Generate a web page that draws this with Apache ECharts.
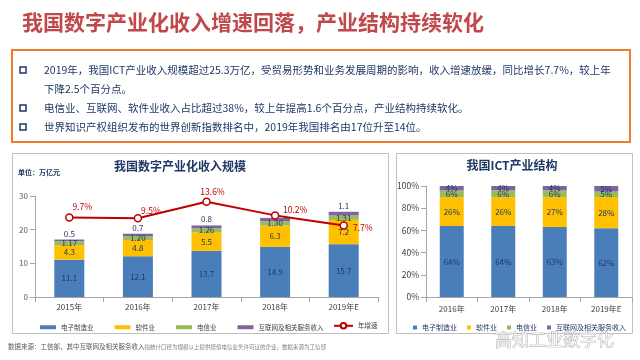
<!DOCTYPE html>
<html><head><meta charset="utf-8">
<script src="https://cdn.jsdelivr.net/npm/echarts@6/dist/echarts.min.js"></script>
<style>html,body{margin:0;padding:0;background:#fff}#c{width:640px;height:360px}</style>
</head><body><div id="c"></div>
<script>
// ---- data ----
const years = ['2015年','2016年','2017年','2018年','2019年E'];
const electronics = [11.1, 12.1, 13.7, 14.9, 15.7];
const software = [4.3, 4.8, 5.5, 6.3, 7.2];
const telecom = [1.17, 1.20, 1.26, 1.30, 1.31];
const internet = [0.5, 0.7, 0.8, 1.0, 1.1];
const internetLabelShown = [true, true, true, false, true];
const growth = [9.7, 9.5, 13.6, 10.2, 7.7];

const structYears = ['2016年','2017年','2018年','2019年E'];
const shareElectronics = [64, 64, 63, 62];
const shareSoftware = [26, 26, 27, 28];
const shareTelecom = [6, 6, 6, 5];
const shareInternet = [4, 4, 4, 5];

const bullets = [
  '2019年，我国ICT产业收入规模超过25.3万亿，受贸易形势和业务发展周期的影响，收入增速放缓，同比增长7.7%，较上年',
  '下降2.5个百分点。',
  '电信业、互联网、软件业收入占比超过38%，较上年提高1.6个百分点，产业结构持续软化。',
  '世界知识产权组织发布的世界创新指数排名中，2019年我国排名由17位升至14位。'
];

// ---- styles ----
const FONT = '"Noto Sans CJK SC", "Noto Sans", sans-serif';
const NAVY = '#1f3864';
const C_BLUE = '#4a7ebb', C_YEL = '#ffc000', C_GRN = '#9bbb59', C_PUR = '#8064a2', C_RED = '#c00000';
const growthLabelOffsets = [[13,-2],[13,1],[6,-1],[20,3],[19,11]];

const chart = echarts.init(document.getElementById('c'), null, {renderer: 'canvas'});

const axisLine = {show: true, lineStyle: {color: '#a6a6a6'}};
const segLabel = (fmt) => ({show: true, position: 'inside', color: NAVY, fontSize: 8, fontFamily: FONT, formatter: fmt});

const lineY = [70, 89, 108, 127];
const textGraphics = [];
bullets.forEach((t, i) => {
  textGraphics.push({type: 'text', style: {x: 44, y: lineY[i], text: t, fill: NAVY, font: '10.5px ' + FONT, textVerticalAlign: 'middle'}});
  if (i !== 1) {
    textGraphics.push({type: 'rect', shape: {x: 20, y: lineY[i] - 3, width: 6, height: 6}, style: {fill: '#fff', stroke: NAVY, lineWidth: 1.5}});
  }
});

const option = {
  backgroundColor: '#fff',
  animation: false,
  textStyle: {fontFamily: FONT},
  graphic: [
    {type: 'text', style: {x: 22, y: 22, text: '我国数字产业化收入增速回落，产业结构持续软化', fill: '#c0474a', font: 'bold 21px ' + FONT, textVerticalAlign: 'middle'}},
    {type: 'rect', shape: {x: 12, y: 50, width: 618, height: 92}, style: {fill: 'none', stroke: '#ed7d31', lineWidth: 2}},
    ...textGraphics,
    {type: 'rect', shape: {x: 12.5, y: 153.5, width: 376, height: 180}, style: {fill: 'none', stroke: '#bfbfbf', lineWidth: 1}},
    {type: 'rect', shape: {x: 396.5, y: 153.5, width: 236, height: 180}, style: {fill: 'none', stroke: '#bfbfbf', lineWidth: 1}},
    {type: 'text', style: {x: 180, y: 166, text: '我国数字产业化收入规模', fill: NAVY, font: 'bold 12px ' + FONT, textAlign: 'center', textVerticalAlign: 'middle'}},
    {type: 'text', style: {x: 18, y: 172, text: '单位：万亿元', fill: NAVY, font: 'bold 7px ' + FONT, textVerticalAlign: 'middle'}},
    {type: 'text', style: {x: 512, y: 165, text: '我国ICT产业结构', fill: NAVY, font: 'bold 12px ' + FONT, textAlign: 'center', textVerticalAlign: 'middle'}},
    {type: 'text', style: {x: 8, y: 347, text: '{a|数据来源：工信部，其中互联网及相关服务收入}{b|指统计口径为规模以上提供增值电信业务许可证的企业，数据来源为工信部}', rich: {a: {fontSize: 6.5, fill: '#595959', fontFamily: FONT}, b: {fontSize: 5.5, fill: '#7f7f7f', fontFamily: FONT}}, textVerticalAlign: 'middle'}},
    {type: 'text', z: 100, style: {x: 495, y: 340, text: '高知工业数字化', fill: 'rgba(255,255,255,0.7)', stroke: '#a8a8a8', lineWidth: 0.7, font: '17px ' + FONT, textVerticalAlign: 'middle'}}
  ],
  legend: [
    {left: 35, top: 319, itemWidth: 16, itemHeight: 4, itemGap: 21, icon: 'rect',
     textStyle: {fontSize: 6.5, color: '#404040', fontFamily: FONT}, selectedMode: false,
     data: ['电子制造业', '软件业', '电信业', '互联网及相关服务收入']},
    {left: 328, top: 317, itemWidth: 19, itemHeight: 7, selectedMode: false,
     textStyle: {fontSize: 6.5, color: '#404040', fontFamily: FONT}, data: ['年增速']},
    {left: 408, top: 319, itemWidth: 4, itemHeight: 4, itemGap: 10, icon: 'rect', selectedMode: false,
     textStyle: {fontSize: 7, color: NAVY, fontFamily: FONT},
     data: ['电子制造业', '软件业', '电信业', '互联网及相关服务收入']}
  ],
  grid: [
    {left: 35, top: 196, width: 343, height: 101},
    {left: 426, top: 186, width: 206, height: 111}
  ],
  xAxis: [
    {type: 'category', gridIndex: 0, data: years, axisLine: axisLine, axisTick: {show: true, lineStyle: {color: '#a6a6a6'}},
     axisLabel: {fontSize: 8, color: '#404040', margin: 6, fontFamily: FONT}},
    {type: 'category', gridIndex: 1, data: structYears, axisLine: axisLine, axisTick: {show: true, lineStyle: {color: '#a6a6a6'}},
     axisLabel: {fontSize: 8, color: '#404040', margin: 8, fontFamily: FONT}}
  ],
  yAxis: [
    {type: 'value', gridIndex: 0, min: 0, max: 30, interval: 10, axisLine: axisLine,
     axisTick: {show: true, lineStyle: {color: '#a6a6a6'}}, splitLine: {show: false},
     axisLabel: {fontSize: 8, color: '#595959', margin: 7}},
    {type: 'value', gridIndex: 0, min: -10, max: 15, show: false, splitLine: {show: false}},
    {type: 'value', gridIndex: 1, min: 0, max: 100, interval: 20, axisLine: axisLine,
     axisTick: {show: true, lineStyle: {color: '#a6a6a6'}}, splitLine: {show: false},
     axisLabel: {fontSize: 8.5, color: '#404040', margin: 7, formatter: '{value}%'}}
  ],
  series: [
    {name: '电子制造业', type: 'bar', stack: 'a', xAxisIndex: 0, yAxisIndex: 0, barWidth: 30, data: electronics,
     itemStyle: {color: C_BLUE}, label: segLabel(p => p.value.toFixed(1))},
    {name: '软件业', type: 'bar', stack: 'a', xAxisIndex: 0, yAxisIndex: 0, data: software,
     itemStyle: {color: C_YEL}, label: segLabel(p => p.value.toFixed(1))},
    {name: '电信业', type: 'bar', stack: 'a', xAxisIndex: 0, yAxisIndex: 0, data: telecom,
     itemStyle: {color: C_GRN}, label: segLabel(p => p.value.toFixed(2))},
    {name: '互联网及相关服务收入', type: 'bar', stack: 'a', xAxisIndex: 0, yAxisIndex: 0,
     data: internet.map((v, i) => ({value: v, label: {show: internetLabelShown[i]}})),
     itemStyle: {color: C_PUR},
     label: {show: true, position: 'top', distance: 2, color: NAVY, fontSize: 8, fontFamily: FONT, formatter: p => p.value.toFixed(1)}},
    {name: '年增速', type: 'line', xAxisIndex: 0, yAxisIndex: 1, z: 5,
     data: growth.map((v, i) => ({value: v, label: {offset: growthLabelOffsets[i]}})),
     lineStyle: {color: C_RED, width: 2}, itemStyle: {color: '#fff', borderColor: C_RED, borderWidth: 1.5},
     symbol: 'circle', symbolSize: 7,
     label: {show: true, position: 'top', distance: 0, color: C_RED, fontSize: 8.5, fontFamily: FONT, formatter: p => p.value + '%'}},

    {name: '电子制造业', type: 'bar', stack: 'b', xAxisIndex: 1, yAxisIndex: 2, barWidth: 24, data: shareElectronics,
     itemStyle: {color: C_BLUE}, label: segLabel('{c}%')},
    {name: '软件业', type: 'bar', stack: 'b', xAxisIndex: 1, yAxisIndex: 2, data: shareSoftware,
     itemStyle: {color: C_YEL}, label: segLabel('{c}%')},
    {name: '电信业', type: 'bar', stack: 'b', xAxisIndex: 1, yAxisIndex: 2, data: shareTelecom,
     itemStyle: {color: C_GRN}, label: segLabel('{c}%')},
    {name: '互联网及相关服务收入', type: 'bar', stack: 'b', xAxisIndex: 1, yAxisIndex: 2, data: shareInternet,
     itemStyle: {color: C_PUR}, label: segLabel('{c}%')}
  ]
};
chart.setOption(option);
</script></body></html>
